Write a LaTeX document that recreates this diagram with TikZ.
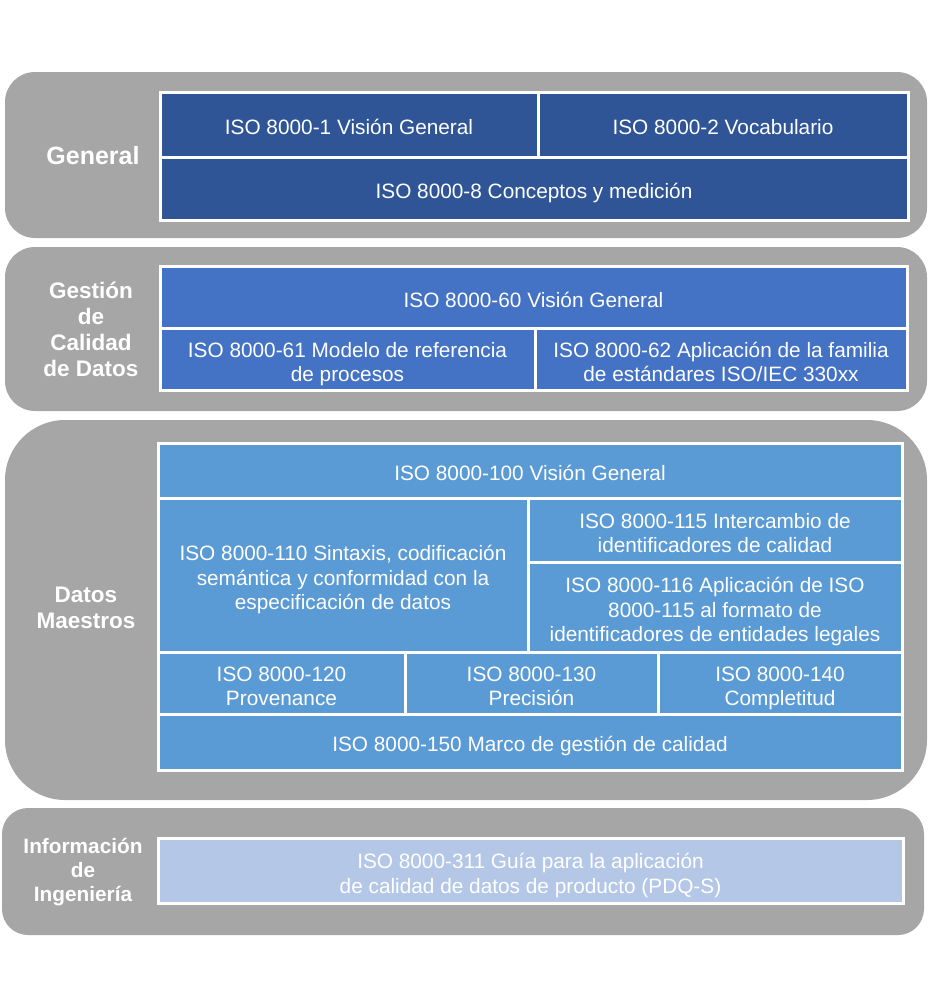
\documentclass[tikz,border=0pt]{standalone}
\usepackage{fontspec}
\setmainfont{Liberation Sans}
\usepackage{tikz}
\usetikzlibrary{positioning}
\usepackage{xcolor}
\definecolor{panelcol}{RGB}{166,166,166}
\definecolor{gencol}{RGB}{47,85,151}
\definecolor{gescol}{RGB}{68,114,196}
\definecolor{datcol}{RGB}{91,155,213}
\definecolor{infcol}{RGB}{180,199,231}

\begin{document}
\begin{tikzpicture}[x=1pt,y=-1pt,
    cell/.style 2 args={draw=white,line width=3pt,text=white,align=center,
      inner sep=0pt,minimum width=#1,minimum height=#2,
      font=\fontsize{20.8}{24.5}\selectfont,
      execute at begin node={\rule{0pt}{25pt}},
      execute at end node={\rule[-6pt]{0pt}{0pt}}},
    tall/.style={execute at begin node={\rule{0pt}{#1}}},
    group/.style={text=white,align=center,
      font=\fontsize{22.5}{26}\selectfont\bfseries}]
  \useasboundingbox (0,0) rectangle (934,983);
  % gray bands
  \fill[panelcol,rounded corners=30pt](5,72) rectangle (927,238);
  \fill[panelcol,rounded corners=30pt](5,247) rectangle (927,411);
  \fill[panelcol,rounded corners=60pt](5,420) rectangle (927,800);
  \fill[panelcol,rounded corners=26pt](2,808) rectangle (924,935);

  \node[group,font=\fontsize{25}{28}\selectfont\bfseries] (lgen) at (93,156){General};
  \node[group] (lges) at (91,329){Gesti\'on\\de\\Calidad\\de Datos};
  \node[group] (ldat) at (86,608){Datos\\Maestros};
  \node[group,font=\fontsize{20.8}{24}\selectfont\bfseries] (linf) at (83,872)
    {Informaci\'on\\de\\Ingenier\'ia};

  % General
  \node[cell={378pt}{65pt},fill=gencol] (g1) at (349,124.5){ISO 8000-1 Visi\'on General};
  \node[cell={370pt}{65pt},fill=gencol] (g2) at (723,124.5){ISO 8000-2 Vocabulario};
  \node[cell={748pt}{63pt},fill=gencol] (g8) at (534,188.5){ISO 8000-8 Conceptos y medici\'on};

  % Gestion de calidad
  \node[cell={747pt}{63pt},fill=gescol] (g60) at (533.5,298){ISO 8000-60 Visi\'on General};
  \node[cell={375pt}{62pt},fill=gescol,tall=51pt] (g61) at (347.5,359)
    {ISO 8000-61 Modelo de referencia\\de procesos};
  \node[cell={372pt}{62pt},fill=gescol,tall=51pt] (g62) at (721,359)
    {ISO 8000-62 Aplicaci\'on de la familia\\de est\'andares ISO/IEC 330xx};

  % Datos maestros
  \node[cell={744pt}{55pt},fill=datcol] (d100) at (530,470.5){ISO 8000-100 Visi\'on General};
  \node[cell={370pt}{154pt},fill=datcol,tall=75pt] (d110) at (343,575)
    {ISO 8000-110 Sintaxis, codificaci\'on\\sem\'antica y conformidad con la\\especificaci\'on de datos};
  \node[cell={374pt}{64pt},fill=datcol,tall=51pt] (d115) at (715,530)
    {ISO 8000-115 Intercambio de\\identificadores de calidad};
  \node[cell={374pt}{90pt},fill=datcol,tall=75pt] (d116) at (715,607)
    {ISO 8000-116 Aplicaci\'on de ISO\\8000-115 al formato de\\identificadores de entidades legales};
  \node[cell={247pt}{62pt},fill=datcol,tall=51pt] (d120) at (281.5,683){ISO 8000-120\\Provenance};
  \node[cell={253pt}{62pt},fill=datcol,tall=51pt] (d130) at (531.5,683){ISO 8000-130\\Precisi\'on};
  \node[cell={244pt}{62pt},fill=datcol,tall=51pt] (d140) at (780,683){ISO 8000-140\\Completitud};
  \node[cell={744pt}{56pt},fill=datcol] (d150) at (530,742){ISO 8000-150 Marco de gesti\'on de calidad};

  % Informacion de ingenieria
  \node[cell={745pt}{65pt},fill=infcol,tall=51pt] (i311) at (530.5,870.5)
    {ISO 8000-311 Gu\'ia para la aplicaci\'on\\de calidad de datos de producto (PDQ-S)};
\end{tikzpicture}
\end{document}
